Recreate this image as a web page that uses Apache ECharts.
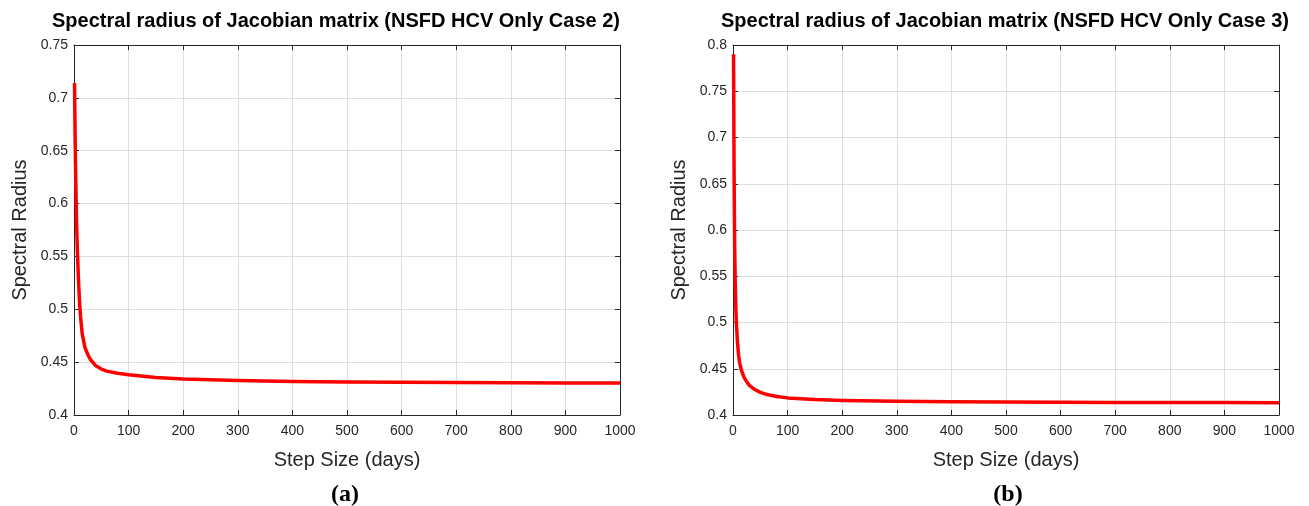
<!DOCTYPE html>
<html>
<head>
<meta charset="utf-8">
<script src="https://cdn.jsdelivr.net/npm/echarts@6/dist/echarts.min.js"></script>
<style>
html,body{margin:0;padding:0;background:#fff;}
#chart{width:1309px;height:506px;}
</style>
</head>
<body>
<div id="chart"></div>
<script>
// Step size (days) and spectral radius
var stepCase2 = [1, 2, 3, 4, 5, 6, 8, 10, 12, 15, 20, 25, 30, 40, 50, 60, 80, 100, 150, 200, 300, 400, 500, 600, 700, 800, 900, 1000];
var radiusCase2 = [0.714, 0.665, 0.628, 0.600, 0.577, 0.558, 0.530, 0.508, 0.493, 0.477, 0.464, 0.4575, 0.4525, 0.4465, 0.4435, 0.4415, 0.4395, 0.438, 0.4355, 0.434, 0.4326, 0.4318, 0.4313, 0.431, 0.4307, 0.4305, 0.4303, 0.4302];

var stepCase3 = [1, 2, 3, 4, 5, 6, 8, 10, 12, 15, 20, 25, 30, 40, 50, 60, 80, 100, 150, 200, 300, 400, 500, 600, 700, 800, 900, 1000];
var radiusCase3 = [0.790, 0.660, 0.585, 0.545, 0.520, 0.502, 0.480, 0.466, 0.457, 0.449, 0.441, 0.436, 0.432, 0.4275, 0.4245, 0.4225, 0.420, 0.4185, 0.4168, 0.4158, 0.4148, 0.4143, 0.414, 0.4138, 0.4136, 0.4135, 0.4134, 0.4133];

var titles = ['Spectral radius of Jacobian matrix (NSFD HCV Only Case 2)', 'Spectral radius of Jacobian matrix (NSFD HCV Only Case 3)'];
var panelLabels = ['(a)', '(b)'];
var xName = 'Step Size (days)';
var yName = 'Spectral Radius';

function pairs(xs, ys) { return xs.map(function (x, i) { return [x, ys[i]]; }); }

var textColor = '#262626';
var gridColor = '#dedede';
var font = 'Liberation Sans, Arial, sans-serif';

function xAx(gi, pos) {
  var main = pos === 'bottom';
  return {
    type: 'value', gridIndex: gi, position: pos, min: 0, max: 1000, interval: 100,
    name: main ? xName : '', nameLocation: 'middle', nameGap: 35,
    nameTextStyle: { fontFamily: font, fontSize: 20, color: textColor },
    axisLine: { show: true, onZero: false, lineStyle: { color: textColor, width: 1 } },
    axisTick: { show: true, inside: true, length: 5, lineStyle: { color: textColor } },
    axisLabel: { show: main, fontFamily: font, fontSize: 14, color: textColor, margin: 9,
      formatter: function (v) { return String(v); } },
    splitLine: { show: main, lineStyle: { color: gridColor, width: 1 } }
  };
}
function yAx(gi, pos, max) {
  var main = pos === 'left';
  return {
    type: 'value', gridIndex: gi, position: pos, min: 0.4, max: max, interval: 0.05,
    name: main ? yName : '', nameLocation: 'middle', nameGap: 44,
    nameTextStyle: { fontFamily: font, fontSize: 20, color: textColor },
    axisLine: { show: true, onZero: false, lineStyle: { color: textColor, width: 1 } },
    axisTick: { show: true, inside: true, length: 5, lineStyle: { color: textColor } },
    axisLabel: { show: main, fontFamily: font, fontSize: 14, color: textColor, margin: 6,
      formatter: function (v) { return String(Math.round(v * 100) / 100); } },
    splitLine: { show: main, lineStyle: { color: gridColor, width: 1 } }
  };
}

var chart = echarts.init(document.getElementById('chart'), null, { renderer: 'canvas' });
chart.setOption({
  backgroundColor: '#fff',
  animation: false,
  title: [
    { text: titles[0], left: 331, top: 6, textAlign: 'center', textStyle: { fontFamily: font, fontSize: 20, fontWeight: 'bold', color: '#000' } },
    { text: titles[1], left: 1000, top: 6, textAlign: 'center', textStyle: { fontFamily: font, fontSize: 20, fontWeight: 'bold', color: '#000' } },
    { text: panelLabels[0], left: 340, top: 478, textAlign: 'center', textStyle: { fontFamily: 'Liberation Serif, Times New Roman, serif', fontSize: 24, fontWeight: 'bold', color: '#000' } },
    { text: panelLabels[1], left: 1003, top: 478, textAlign: 'center', textStyle: { fontFamily: 'Liberation Serif, Times New Roman, serif', fontSize: 24, fontWeight: 'bold', color: '#000' } }
  ],
  grid: [
    { left: 74, top: 45, width: 546, height: 370, show: false },
    { left: 733, top: 45, width: 546, height: 370, show: false }
  ],
  xAxis: [xAx(0, 'bottom'), xAx(0, 'top'), xAx(1, 'bottom'), xAx(1, 'top')],
  yAxis: [yAx(0, 'left', 0.75), yAx(0, 'right', 0.75), yAx(1, 'left', 0.8), yAx(1, 'right', 0.8)],
  series: [
    { type: 'line', xAxisIndex: 0, yAxisIndex: 0, data: pairs(stepCase2, radiusCase2), showSymbol: false,
      smooth: false, lineStyle: { color: '#ff0000', width: 3.5, join: 'round', cap: 'butt' } },
    { type: 'line', xAxisIndex: 2, yAxisIndex: 2, data: pairs(stepCase3, radiusCase3), showSymbol: false,
      smooth: false, lineStyle: { color: '#ff0000', width: 3.5, join: 'round', cap: 'butt' } }
  ]
});
</script>
</body>
</html>
